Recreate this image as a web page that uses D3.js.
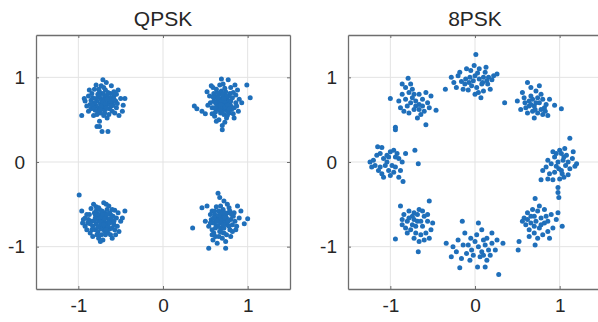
<!DOCTYPE html>
<html>
<head>
<meta charset="utf-8">
<script src="https://cdn.jsdelivr.net/npm/d3@7"></script>
<style>
  body { margin: 0; background: #fff; }
  text { font-family: "Liberation Sans", Arial, Helvetica, sans-serif; fill: #262626; }
</style>
</head>
<body>
<div id="chart-area"></div>
<script>

// data
let titles = ["QPSK", "8PSK"];
let tickValues = [-1, 0, 1];
let tickLabels = ["-1", "0", "1"];

let qpskTL = [[-0.72,0.70],[-0.65,0.75],[-0.80,0.68],[-0.70,0.62],[-0.77,0.80],[-0.60,0.70],[-0.85,0.73],[-0.68,0.85],[-0.74,0.58],[-0.63,0.63],
  [-0.90,0.66],[-0.58,0.78],[-0.79,0.91],[-0.71,0.97],[-0.55,0.64],[-0.82,0.55],[-0.66,0.52],[-0.93,0.75],[-0.50,0.75],[-0.76,0.64],
  [-0.69,0.77],[-0.73,0.74],[-0.62,0.81],[-0.84,0.81],[-0.67,0.68],[-0.78,0.72],[-0.57,0.58],[-0.88,0.60],[-0.75,0.48],[-0.61,0.90],
  [-0.72,0.36],[-0.65,0.36],[-0.78,0.42],[-0.75,0.42],[-0.52,0.55],[-0.47,0.67],[-0.45,0.75],[-0.96,0.55],[-0.53,0.85],[-0.81,0.86],
  [-0.70,0.55],[-0.64,0.71],[-0.86,0.68],[-0.59,0.67],[-0.77,0.60],[-0.73,0.90],[-0.68,0.62],[-0.83,0.76],[-0.71,0.81],[-0.62,0.76],
  [-0.56,0.72],[-0.79,0.66],[-0.66,0.79],[-0.74,0.69],[-0.69,0.73],[-0.85,0.63],[-0.60,0.60],[-0.76,0.77],[-0.64,0.56],[-0.81,0.70],
  [-0.58,0.83],[-0.70,0.66],[-0.92,0.72],[-0.48,0.60],[-0.67,0.94],[-0.87,0.85],[-0.63,0.68],[-0.75,0.83],[-0.54,0.69],[-0.80,0.61],
  [-0.71,0.71],[-0.67,0.64],[-0.75,0.78],[-0.62,0.72],[-0.79,0.75],[-0.69,0.58],[-0.73,0.66],[-0.65,0.82],[-0.82,0.64],[-0.58,0.74],
  [-0.76,0.86],[-0.68,0.69],[-0.61,0.66],[-0.74,0.62],[-0.84,0.68],[-0.66,0.74],[-0.78,0.56],[-0.55,0.80],[-0.70,0.88],[-0.88,0.78]];
let qpskTR = [[0.70,0.70],[0.76,0.74],[0.64,0.67],[0.72,0.62],[0.80,0.66],[0.66,0.80],[0.60,0.72],[0.74,0.83],[0.82,0.76],[0.68,0.58],
  [0.58,0.64],[0.78,0.58],[0.86,0.70],[0.63,0.86],[0.71,0.92],[0.77,0.97],[0.69,0.98],[0.59,0.88],[0.55,0.78],[0.84,0.52],
  [0.75,0.52],[0.66,0.50],[0.70,0.43],[0.70,0.38],[0.40,0.63],[0.37,0.66],[0.46,0.60],[0.50,0.57],[0.99,0.91],[1.03,0.76],
  [0.93,0.70],[0.88,0.85],[0.52,0.83],[0.62,0.59],[0.73,0.77],[0.79,0.81],[0.67,0.73],[0.74,0.68],[0.81,0.62],[0.65,0.63],
  [0.71,0.66],[0.77,0.71],[0.62,0.77],[0.69,0.84],[0.84,0.64],[0.56,0.70],[0.72,0.56],[0.89,0.60],[0.61,0.54],[0.80,0.88],
  [0.67,0.91],[0.53,0.67],[0.75,0.64],[0.64,0.72],[0.78,0.78],[0.70,0.76],[0.86,0.79],[0.58,0.57],[0.73,0.47],[0.83,0.57],
  [0.60,0.81],[0.90,0.74],[0.68,0.65],[0.76,0.60],[0.63,0.48],[0.79,0.69],[0.57,0.90],[0.85,0.91],[0.72,0.72],[0.66,0.69],
  [0.69,0.73],[0.74,0.65],[0.65,0.76],[0.77,0.67],[0.71,0.80],[0.62,0.70],[0.80,0.72],[0.67,0.61],[0.73,0.87],[0.83,0.82],
  [0.68,0.68],[0.75,0.78],[0.61,0.64],[0.78,0.63],[0.70,0.59],[0.64,0.82],[0.87,0.66],[0.72,0.75],[0.59,0.77],[0.76,0.55]];
let qpskBL = [[-0.72,-0.68],[-0.66,-0.72],[-0.78,-0.64],[-0.70,-0.78],[-0.62,-0.62],[-0.84,-0.70],[-0.75,-0.56],[-0.68,-0.86],[-0.80,-0.80],[-0.58,-0.74],
  [-0.90,-0.62],[-0.64,-0.52],[-0.76,-0.90],[-0.86,-0.84],[-0.55,-0.66],[-0.96,-0.58],[-0.99,-0.39],[-0.45,-0.58],[-0.52,-0.82],[-0.60,-0.90],
  [-0.82,-0.50],[-0.70,-0.48],[-0.92,-0.76],[-0.50,-0.70],[-0.73,-0.62],[-0.67,-0.66],[-0.79,-0.73],[-0.63,-0.79],[-0.74,-0.75],[-0.69,-0.60],
  [-0.81,-0.60],[-0.57,-0.57],[-0.88,-0.68],[-0.61,-0.70],[-0.77,-0.82],[-0.65,-0.84],[-0.85,-0.55],[-0.71,-0.92],[-0.54,-0.76],[-0.94,-0.68],
  [-0.76,-0.69],[-0.68,-0.74],[-0.72,-0.58],[-0.83,-0.76],[-0.59,-0.64],[-0.75,-0.65],[-0.66,-0.56],[-0.78,-0.86],[-0.62,-0.86],[-0.87,-0.62],
  [-0.70,-0.70],[-0.80,-0.66],[-0.64,-0.68],[-0.73,-0.79],[-0.56,-0.86],[-0.90,-0.80],[-0.67,-0.50],[-0.79,-0.53],[-0.53,-0.60],[-0.60,-0.78],
  [-0.83,-0.88],[-0.69,-0.82],[-0.77,-0.61],[-0.48,-0.66],[-0.95,-0.72],[-0.74,-0.94],[-0.63,-0.60],[-0.86,-0.73],[-0.71,-0.65],[-0.58,-0.70],
  [-0.74,-0.71],[-0.69,-0.67],[-0.77,-0.77],[-0.65,-0.76],[-0.81,-0.69],[-0.71,-0.62],[-0.67,-0.80],[-0.79,-0.58],[-0.61,-0.66],[-0.84,-0.80],
  [-0.73,-0.86],[-0.63,-0.72],[-0.76,-0.54],[-0.89,-0.72],[-0.57,-0.80],[-0.70,-0.74],[-0.80,-0.62],[-0.66,-0.62],[-0.92,-0.66],[-0.60,-0.56]];
let qpskBR = [[0.70,-0.70],[0.64,-0.66],[0.76,-0.74],[0.68,-0.78],[0.74,-0.62],[0.60,-0.72],[0.80,-0.68],[0.66,-0.58],[0.72,-0.84],[0.58,-0.80],
  [0.84,-0.60],[0.62,-0.88],[0.78,-0.54],[0.65,-0.37],[0.67,-0.42],[0.72,-0.46],[0.35,-0.78],[1.00,-0.67],[0.96,-0.73],[0.54,-1.02],
  [0.74,-1.02],[0.52,-0.52],[0.46,-0.54],[0.88,-0.52],[0.86,-0.80],[0.56,-0.62],[0.69,-0.64],[0.73,-0.71],[0.63,-0.75],[0.79,-0.80],
  [0.57,-0.68],[0.67,-0.82],[0.82,-0.74],[0.71,-0.56],[0.61,-0.62],[0.75,-0.66],[0.66,-0.70],[0.70,-0.90],[0.59,-0.92],[0.90,-0.66],
  [0.77,-0.60],[0.63,-0.53],[0.54,-0.76],[0.80,-0.88],[0.68,-0.72],[0.72,-0.78],[0.62,-0.68],[0.85,-0.70],[0.60,-0.84],[0.76,-0.50],
  [0.69,-0.60],[0.58,-0.58],[0.74,-0.94],[0.83,-0.64],[0.65,-0.76],[0.71,-0.66],[0.50,-0.70],[0.78,-0.76],[0.64,-0.96],[0.92,-0.58],
  [0.67,-0.68],[0.73,-0.65],[0.62,-0.78],[0.77,-0.70],[0.69,-0.83],[0.60,-0.66],[0.81,-0.62],[0.66,-0.63],[0.75,-0.86],[0.56,-0.72],
  [0.71,-0.74],[0.64,-0.70],[0.79,-0.58],[0.68,-0.52],[0.58,-0.86],[0.82,-0.82],[0.73,-0.60],[0.61,-0.58],[0.87,-0.76],[0.66,-0.88]];

let psk8N = [[0.01,1.27],[-0.35,0.86],[0.26,1.04],[-0.20,1.02],[-0.12,0.92],[-0.05,1.08],[0.05,1.10],[0.10,1.00],[-0.02,0.96],[0.15,0.92],
  [-0.08,0.85],[0.04,0.82],[0.12,1.06],[-0.16,0.95],[0.20,0.97],[-0.25,0.94],[0.07,0.76],[-0.10,1.10],[0.00,1.02],[0.08,0.92],
  [-0.04,0.90],[0.18,0.86],[-0.14,0.86],[0.02,0.88],[-0.28,1.00],[0.13,1.12],[-0.06,1.00],[0.22,1.02],[0.05,0.98],[-0.18,1.06],
  [0.10,0.84],[-0.01,1.14],[0.16,1.00],[-0.11,0.98],[0.03,1.05],[-0.22,0.88],[0.09,0.94],[0.00,0.80],[-0.07,0.94],[0.14,0.96]];
let psk8NE = [[0.35,0.70],[0.94,0.67],[1.02,0.63],[0.62,0.94],[0.66,0.88],[0.72,0.84],[0.78,0.80],[0.58,0.76],[0.64,0.72],[0.70,0.66],
  [0.76,0.70],[0.82,0.64],[0.68,0.60],[0.60,0.64],[0.74,0.58],[0.86,0.55],[0.54,0.62],[0.50,0.72],[0.80,0.74],[0.66,0.78],
  [0.72,0.70],[0.84,0.68],[0.62,0.58],[0.70,0.52],[0.78,0.62],[0.56,0.82],[0.74,0.76],[0.88,0.74],[0.64,0.66],[0.80,0.56],
  [0.68,0.74],[0.59,0.70],[0.76,0.90],[0.71,0.62],[0.83,0.60],[0.66,0.68]];
let psk8E = [[1.12,0.28],[0.98,-0.30],[0.98,-0.36],[0.99,-0.42],[0.78,-0.21],[0.80,-0.10],[0.86,-0.20],[0.92,-0.21],[1.05,-0.18],[1.10,-0.15],
  [1.02,-0.10],[0.96,-0.05],[1.04,0.02],[0.94,0.06],[1.08,0.08],[1.15,0.04],[1.18,-0.05],[1.00,0.14],[1.06,0.16],[0.90,-0.02],
  [1.12,-0.08],[0.98,0.00],[1.02,0.10],[0.86,0.02],[1.07,-0.04],[0.94,-0.12],[1.16,0.12],[1.00,-0.20],[0.88,-0.14],[1.10,0.00],
  [1.03,-0.14],[0.96,0.10],[1.20,-0.02],[0.84,-0.06],[1.05,0.06],[0.99,-0.08],[0.92,0.12]];
let psk8SE = [[0.71,-0.43],[1.03,-0.76],[0.71,-0.98],[0.51,-1.04],[0.52,-0.94],[0.58,-0.66],[0.62,-0.60],[0.66,-0.72],[0.70,-0.64],[0.74,-0.58],
  [0.78,-0.66],[0.82,-0.56],[0.86,-0.70],[0.90,-0.62],[0.96,-0.68],[0.64,-0.80],[0.70,-0.84],[0.76,-0.78],[0.80,-0.86],[0.86,-0.82],
  [0.74,-0.90],[0.68,-0.56],[0.60,-0.74],[0.72,-0.70],[0.84,-0.64],[0.66,-0.64],[0.78,-0.74],[0.92,-0.78],[0.56,-0.70],[0.88,-0.90],
  [0.76,-0.52],[0.64,-0.88],[0.82,-0.72],[0.70,-0.76],[0.98,-0.60],[0.62,-0.68]];
let psk8S = [[0.28,-1.33],[-0.18,-1.25],[0.03,-1.24],[0.12,-1.24],[-0.15,-0.70],[0.04,-0.72],[-0.34,-0.96],[0.33,-0.96],[-0.26,-1.00],[-0.20,-0.92],
  [-0.12,-0.84],[-0.05,-0.90],[0.02,-0.86],[0.08,-0.80],[0.14,-0.90],[0.20,-0.96],[0.16,-1.04],[0.10,-1.10],[0.04,-1.00],[-0.04,-1.04],
  [-0.10,-1.08],[-0.16,-1.14],[-0.06,-1.16],[0.06,-1.12],[0.18,-1.10],[0.24,-1.04],[-0.22,-1.06],[0.00,-0.94],[-0.08,-0.98],[0.12,-0.98],
  [0.08,-1.06],[-0.14,-0.98],[0.20,-0.84],[-0.02,-1.10],[0.14,-1.16],[-0.28,-1.12],[0.26,-0.92],[0.10,-0.92]];
let psk8SW = [[-0.94,-0.91],[-0.67,-1.06],[-0.54,-0.46],[-0.88,-0.52],[-0.84,-0.62],[-0.78,-0.66],[-0.72,-0.60],[-0.66,-0.56],[-0.60,-0.64],[-0.56,-0.70],
  [-0.62,-0.76],[-0.68,-0.70],[-0.74,-0.74],[-0.80,-0.70],[-0.86,-0.68],[-0.76,-0.80],[-0.70,-0.84],[-0.64,-0.86],[-0.58,-0.84],[-0.52,-0.80],
  [-0.66,-0.94],[-0.72,-0.90],[-0.82,-0.78],[-0.74,-0.64],[-0.62,-0.58],[-0.70,-0.76],[-0.54,-0.90],[-0.78,-0.58],[-0.64,-0.70],[-0.60,-0.92],
  [-0.80,-0.84],[-0.68,-0.62],[-0.56,-0.62],[-0.86,-0.74],[-0.72,-0.68],[-0.50,-0.72]];
let psk8W = [[-1.24,0.00],[-1.20,0.02],[-1.15,0.18],[-1.10,0.17],[-0.71,0.14],[-0.67,-0.02],[-0.85,-0.23],[-0.90,-0.18],[-1.18,-0.04],[-1.12,-0.06],
  [-1.08,0.04],[-1.04,0.08],[-1.00,0.12],[-0.96,0.14],[-0.92,0.10],[-1.06,-0.04],[-1.02,-0.10],[-0.98,-0.04],[-0.94,-0.06],[-1.14,-0.10],
  [-1.10,-0.14],[-1.00,-0.16],[-0.88,-0.10],[-0.86,0.00],[-1.16,0.08],[-1.04,0.00],[-0.96,-0.12],[-1.12,0.10],[-0.90,0.04],[-1.02,0.06],
  [-1.08,-0.18],[-0.94,0.06],[-1.22,-0.06],[-0.82,0.10]];
let psk8NW = [[-1.00,0.75],[-0.94,0.41],[-0.94,0.38],[-0.58,0.44],[-0.79,0.99],[-0.46,0.61],[-0.86,0.92],[-0.82,0.88],[-0.78,0.82],[-0.74,0.76],
  [-0.70,0.72],[-0.66,0.68],[-0.62,0.66],[-0.56,0.70],[-0.52,0.78],[-0.76,0.70],[-0.80,0.66],[-0.84,0.60],[-0.78,0.58],[-0.72,0.62],
  [-0.68,0.52],[-0.64,0.56],[-0.90,0.72],[-0.86,0.80],[-0.74,0.86],[-0.66,0.80],[-0.60,0.60],[-0.54,0.64],[-0.82,0.74],[-0.70,0.66],
  [-0.76,0.92],[-0.62,0.74],[-0.88,0.64],[-0.58,0.82],[-0.72,0.80],[-0.66,0.62]];

let qpsk = [].concat(qpskTL, qpskTR, qpskBL, qpskBR);
let psk8 = [].concat(psk8N, psk8NE, psk8E, psk8SE, psk8S, psk8SW, psk8W, psk8NW);

let width = 598, height = 322;

let svg = d3.select("#chart-area").append("svg")
    .attr("width", width)
    .attr("height", height);

let panels = [
  {title: titles[0], points: qpsk, left: 36},
  {title: titles[1], points: psk8, left: 348}
];
let boxTop = 35, size = 254;

panels.forEach(p => {
  let x = d3.scaleLinear().domain([-1.5, 1.5]).range([p.left, p.left + size]);
  let y = d3.scaleLinear().domain([-1.5, 1.5]).range([boxTop + size, boxTop]);

  let g = svg.append("g");

  // grid
  g.selectAll(".gx").data(tickValues).enter().append("line")
    .attr("x1", d => x(d)).attr("x2", d => x(d))
    .attr("y1", boxTop).attr("y2", boxTop + size)
    .attr("stroke", "#e3e3e3").attr("stroke-width", 1);
  g.selectAll(".gy").data(tickValues).enter().append("line")
    .attr("y1", d => y(d)).attr("y2", d => y(d))
    .attr("x1", p.left).attr("x2", p.left + size)
    .attr("stroke", "#e3e3e3").attr("stroke-width", 1);

  // points
  g.selectAll("circle").data(p.points).enter().append("circle")
    .attr("cx", d => x(d[0]))
    .attr("cy", d => y(d[1]))
    .attr("r", 2.5)
    .attr("fill", "#1f6fba");

  // axes, ticks inward on all sides
  let tickFmt = (d, i) => tickLabels[i];
  g.append("g").attr("transform", "translate(0," + (boxTop + size) + ")")
    .call(d3.axisBottom(x).tickValues(tickValues).tickSizeInner(-3).tickSizeOuter(0).tickPadding(10).tickFormat(tickFmt));
  g.append("g").attr("transform", "translate(0," + boxTop + ")")
    .call(d3.axisTop(x).tickValues(tickValues).tickSizeInner(-3).tickSizeOuter(0).tickFormat(""));
  g.append("g").attr("transform", "translate(" + p.left + ",0)")
    .call(d3.axisLeft(y).tickValues(tickValues).tickSizeInner(-3).tickSizeOuter(0).tickPadding(11).tickFormat(tickFmt));
  g.append("g").attr("transform", "translate(" + (p.left + size) + ",0)")
    .call(d3.axisRight(y).tickValues(tickValues).tickSizeInner(-3).tickSizeOuter(0).tickFormat(""));

  g.selectAll(".domain").attr("stroke", "#6e6e6e").attr("stroke-width", 1.3);
  g.selectAll(".tick line").attr("stroke", "#6e6e6e");
  g.selectAll(".tick text").style("font-size", "19px").attr("fill", "#262626");

  g.append("text")
    .attr("x", p.left + size / 2)
    .attr("y", 26)
    .attr("text-anchor", "middle")
    .style("font-size", "21px")
    .text(p.title);
});

</script>
</body>
</html>
